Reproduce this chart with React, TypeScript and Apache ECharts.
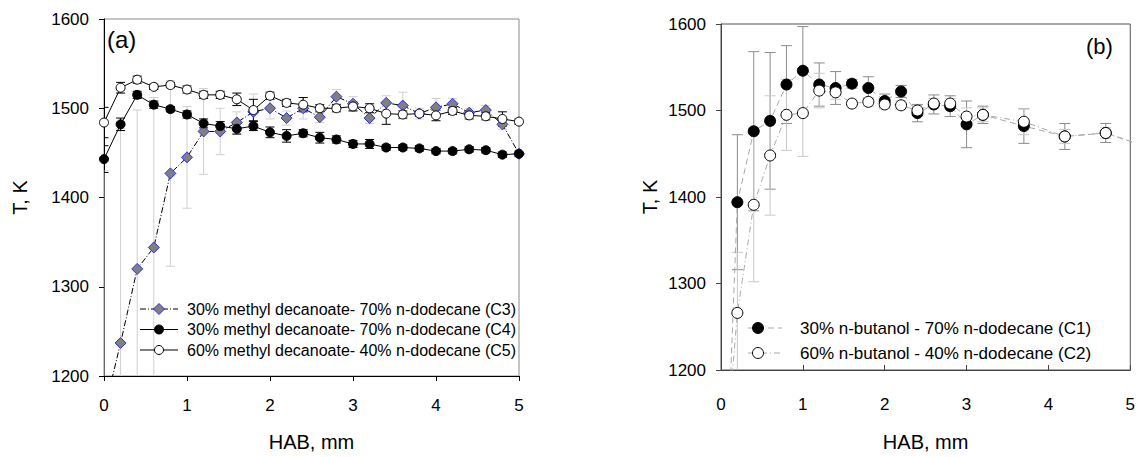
import React, { useEffect, useRef } from "react";
import * as echarts from "echarts";

// ---------- Panel (a) data ----------
const HAB_A = [0, 0.2, 0.4, 0.6, 0.8, 1.0, 1.2, 1.4, 1.6, 1.8, 2.0, 2.2, 2.4, 2.6, 2.8, 3.0, 3.2, 3.4, 3.6, 3.8, 4.0, 4.2, 4.4, 4.6, 4.8, 5.0];
const C3 = [1160, 1237, 1320, 1344, 1427, 1445, 1474, 1474, 1484, 1496, 1500, 1489, 1500, 1490, 1513, 1505, 1489, 1506, 1503, 1494, 1501, 1505, 1495, 1498, 1482, 1449];
const C3_ERR = [270, 240, 178, 168, 104, 57, 48, 26, 12, 20, 12, 8, 12, 6, 8, 8, 6, 8, 15, 6, 10, 6, 5, 5, 6, 4];
const C4 = [1443, 1482, 1515, 1504, 1499, 1493, 1483, 1480, 1477, 1480, 1473, 1469, 1472, 1467, 1465, 1460, 1460, 1456, 1456, 1455, 1452, 1452, 1454, 1453, 1448, 1449];
const C4_ERR = [15, 7, 4, 4, 3, 4, 5, 5, 6, 5, 6, 7, 4, 6, 4, 4, 5, 3, 3, 3, 3, 3, 3, 3, 3, 3];
const C5 = [1484, 1523, 1532, 1524, 1526, 1521, 1515, 1515, 1510, 1498, 1514, 1506, 1504, 1500, 1500, 1502, 1500, 1494, 1493, 1494, 1492, 1497, 1492, 1491, 1488, 1485];
const C5_ERR = [17, 6, 4, 3, 3, 4, 4, 4, 7, 12, 4, 4, 8, 4, 4, 5, 5, 12, 4, 3, 6, 4, 4, 4, 8, 3];

// ---------- Panel (b) data ----------
const HAB_B = [0.1, 0.2, 0.4, 0.6, 0.8, 1.0, 1.2, 1.4, 1.6, 1.8, 2.0, 2.2, 2.4, 2.6, 2.8, 3.0, 3.2, 3.7, 4.2, 4.7, 5.2];
const C1 = [1150, 1394, 1476, 1488, 1530, 1546, 1530, 1526, 1531, 1526, 1511, 1522, 1497, 1507, 1505, 1484, 1495, 1482, 1470, 1474, 1458];
const C1_ERR = [0, 78, 92, 79, 45, 51, 25, 19, 5, 13, 8, 7, 10, 11, 12, 27, 10, 20, 15, 11, 0];
const C2 = [1150, 1266, 1391, 1448, 1495, 1497, 1523, 1521, 1508, 1510, 1507, 1506, 1500, 1508, 1508, 1493, 1495, 1487, 1470, 1474, 1458];
const C2_ERR = [0, 70, 89, 69, 41, 50, 20, 8, 5, 5, 5, 5, 6, 6, 6, 10, 8, 15, 8, 6, 0];

// ---------- Axis ticks / labels ----------
const X_MIN = 0, X_MAX = 5, X_STEP = 1;
const Y_MIN = 1200, Y_MAX = 1600, Y_STEP = 100;
const X_NAME = "HAB, mm";
const Y_NAME = "T, K";
const LEGEND_A = [
  "30% methyl decanoate- 70% n-dodecane (C3)",
  "30% methyl decanoate- 70% n-dodecane (C4)",
  "60% methyl decanoate- 40% n-dodecane (C5)",
];
const LEGEND_B = [
  "30% n-butanol - 70% n-dodecane (C1)",
  "60% n-butanol - 40% n-dodecane (C2)",
];

const FONT = "Liberation Sans, Arial, sans-serif";

const pairs = (xs: number[], ys: number[]) => xs.map((x, i) => [x, ys[i]]);
const triples = (xs: number[], ys: number[], es: number[]) => xs.map((x, i) => [x, ys[i], es[i]]);

function errorBars(idx: number, xs: number[], ys: number[], es: number[], color: string, hw: number) {
  return {
    type: "custom",
    xAxisIndex: idx,
    yAxisIndex: idx,
    clip: true,
    z: 1,
    silent: true,
    encode: { x: 0, y: 1 },
    data: triples(xs, ys, es),
    renderItem: (params: any, api: any) => {
      const x = api.value(0), y = api.value(1), e = api.value(2);
      if (!e) return null;
      const t = api.coord([x, y + e]);
      const b = api.coord([x, y - e]);
      const st = { stroke: color, lineWidth: 1 };
      return {
        type: "group",
        children: [
          { type: "line", shape: { x1: t[0], y1: t[1], x2: b[0], y2: b[1] }, style: st },
          { type: "line", shape: { x1: t[0] - hw, y1: t[1], x2: t[0] + hw, y2: t[1] }, style: st },
          { type: "line", shape: { x1: b[0] - hw, y1: b[1], x2: b[0] + hw, y2: b[1] }, style: st },
        ],
      };
    },
  };
}

function xAxis(idx: number, gap: number, margin: number, inside: boolean, color: string) {
  return {
    gridIndex: idx,
    type: "value",
    min: X_MIN,
    max: X_MAX,
    interval: X_STEP,
    name: X_NAME,
    nameLocation: "middle",
    nameGap: gap,
    nameTextStyle: { fontSize: 20, color: "#000", fontFamily: FONT },
    axisLine: { onZero: false, lineStyle: { color, width: 1 } },
    axisTick: { inside, length: 5, lineStyle: { color } },
    axisLabel: { margin, fontSize: 17, color: "#000", fontFamily: FONT, formatter: (v: number) => String(v) },
    splitLine: { show: false },
  };
}

function yAxis(idx: number, gap: number, color: string) {
  return {
    gridIndex: idx,
    type: "value",
    min: Y_MIN,
    max: Y_MAX,
    interval: Y_STEP,
    name: Y_NAME,
    nameLocation: "middle",
    nameGap: gap,
    nameRotate: 90,
    nameTextStyle: { fontSize: 20, color: "#000", fontFamily: FONT },
    axisLine: { onZero: false, lineStyle: { color, width: 1 } },
    axisTick: { inside: false, length: 5, lineStyle: { color } },
    axisLabel: { margin: 15, fontSize: 17, color: "#000", fontFamily: FONT, formatter: (v: number) => String(v) },
    splitLine: { show: false },
  };
}

function legendGraphics() {
  const g: any[] = [];
  const rowsA = [309, 329.5, 350];
  const lx1 = 140, lx2 = 178, mx = 159;
  g.push({ type: "line", shape: { x1: lx1, y1: rowsA[0], x2: lx2, y2: rowsA[0] }, style: { stroke: "#000", lineWidth: 1, lineDash: [6, 2, 1, 2] } });
  g.push({ type: "polygon", shape: { points: [[mx, rowsA[0] - 5.5], [mx + 5.5, rowsA[0]], [mx, rowsA[0] + 5.5], [mx - 5.5, rowsA[0]]] }, style: { fill: "#808080", stroke: "#2a2aff", lineWidth: 1 } });
  g.push({ type: "line", shape: { x1: lx1, y1: rowsA[1], x2: lx2, y2: rowsA[1] }, style: { stroke: "#000", lineWidth: 1 } });
  g.push({ type: "circle", shape: { cx: mx, cy: rowsA[1], r: 4.5 }, style: { fill: "#000", stroke: "#000", lineWidth: 1 } });
  g.push({ type: "line", shape: { x1: lx1, y1: rowsA[2], x2: lx2, y2: rowsA[2] }, style: { stroke: "#000", lineWidth: 1 } });
  g.push({ type: "circle", shape: { cx: mx, cy: rowsA[2], r: 4.5 }, style: { fill: "#fff", stroke: "#000", lineWidth: 1 } });
  LEGEND_A.forEach((t, i) => {
    g.push({ type: "text", x: 187, y: rowsA[i], style: { text: t, fontSize: 16, fontFamily: FONT, fill: "#000", verticalAlign: "middle", align: "left" } });
  });
  const rowsB = [328, 353];
  g.push({ type: "line", shape: { x1: 748, y1: rowsB[0], x2: 782, y2: rowsB[0] }, style: { stroke: "#a8a8a8", lineWidth: 1, lineDash: [6, 4] } });
  g.push({ type: "circle", shape: { cx: 758, cy: rowsB[0], r: 5.5 }, style: { fill: "#000", stroke: "#000", lineWidth: 1 } });
  g.push({ type: "line", shape: { x1: 748, y1: rowsB[1], x2: 782, y2: rowsB[1] }, style: { stroke: "#a8a8a8", lineWidth: 1, lineDash: [6, 3, 1, 3] } });
  g.push({ type: "circle", shape: { cx: 758, cy: rowsB[1], r: 5.5 }, style: { fill: "#fff", stroke: "#000", lineWidth: 1 } });
  LEGEND_B.forEach((t, i) => {
    g.push({ type: "text", x: 800, y: rowsB[i], style: { text: t, fontSize: 17, fontFamily: FONT, fill: "#000", verticalAlign: "middle", align: "left" } });
  });
  g.push({ type: "text", x: 107, y: 39, style: { text: "(a)", fontSize: 24, fontFamily: FONT, fill: "#000", verticalAlign: "middle", align: "left" } });
  g.push({ type: "text", x: 1086, y: 46, style: { text: "(b)", fontSize: 22, fontFamily: FONT, fill: "#000", verticalAlign: "middle", align: "left" } });
  return g.map((e) => ({ ...e, z: 100 }));
}

export default function App() {
  const ref = useRef<HTMLDivElement>(null);
  useEffect(() => {
    if (!ref.current) return;
    const chart = echarts.init(ref.current, undefined, { renderer: "svg" });
    const option: any = {
      animation: false,
      backgroundColor: "#fff",
      grid: [
        { left: 104, top: 19, width: 415, height: 357, show: true, borderColor: "#8a8a8a", borderWidth: 1, backgroundColor: "transparent" },
        { left: 721, top: 24, width: 410, height: 358, show: true, borderColor: "#555", borderWidth: 1, backgroundColor: "transparent" },
      ],
      xAxis: [xAxis(0, 56, 21, false, "#000"), xAxis(1, 62, 26, true, "#444")],
      yAxis: [yAxis(0, 74, "#000"), yAxis(1, 61, "#444")],
      graphic: legendGraphics(),
      series: [
        errorBars(0, HAB_A, C3, C3_ERR, "#cfcfcf", 4.5),
        errorBars(0, HAB_A, C4, C4_ERR, "#000", 4.5),
        errorBars(0, HAB_A, C5, C5_ERR, "#000", 4.5),
        {
          type: "line", name: LEGEND_A[0], xAxisIndex: 0, yAxisIndex: 0, z: 3, clip: true,
          data: pairs(HAB_A, C3), showAllSymbol: true,
          symbol: "diamond", symbolSize: 11,
          lineStyle: { color: "#000", width: 1, type: [6, 2, 1, 2] },
          itemStyle: { color: "#808080", borderColor: "#2a2aff", borderWidth: 1 },
        },
        {
          type: "line", name: LEGEND_A[1], xAxisIndex: 0, yAxisIndex: 0, z: 3, clip: true,
          data: pairs(HAB_A, C4), showAllSymbol: true,
          symbol: "circle", symbolSize: 9,
          lineStyle: { color: "#000", width: 1 },
          itemStyle: { color: "#000", borderColor: "#000", borderWidth: 1 },
        },
        {
          type: "line", name: LEGEND_A[2], xAxisIndex: 0, yAxisIndex: 0, z: 3, clip: true,
          data: pairs(HAB_A, C5), showAllSymbol: true,
          symbol: "circle", symbolSize: 9,
          lineStyle: { color: "#000", width: 1 },
          itemStyle: { color: "#fff", borderColor: "#000", borderWidth: 1 },
        },
        errorBars(1, HAB_B, C1, C1_ERR, "#8c8c8c", 5.5),
        errorBars(1, HAB_B, C2, C2_ERR, "#c8c8c8", 5.5),
        {
          type: "line", name: LEGEND_B[0], xAxisIndex: 1, yAxisIndex: 1, z: 3, clip: true,
          data: pairs(HAB_B, C1), showAllSymbol: true,
          symbol: "circle", symbolSize: 11,
          lineStyle: { color: "#a8a8a8", width: 1, type: [6, 4] },
          itemStyle: { color: "#000", borderColor: "#000", borderWidth: 1 },
        },
        {
          type: "line", name: LEGEND_B[1], xAxisIndex: 1, yAxisIndex: 1, z: 3, clip: true,
          data: pairs(HAB_B, C2), showAllSymbol: true,
          symbol: "circle", symbolSize: 11,
          lineStyle: { color: "#a8a8a8", width: 1, type: [6, 3, 1, 3] },
          itemStyle: { color: "#fff", borderColor: "#000", borderWidth: 1 },
        },
      ],
    };
    chart.setOption(option);
    return () => chart.dispose();
  }, []);
  return (
    <div
      ref={ref}
      style={{ position: "fixed", left: 0, top: 0, width: 1138, height: 457, background: "#fff" }}
    />
  );
}
